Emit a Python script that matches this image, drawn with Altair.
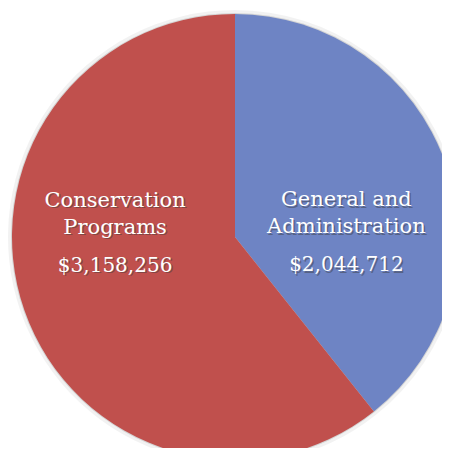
import altair as alt
import pandas as pd

categories = ["General and Administration", "Conservation Programs"]
line1 = ["General and", "Conservation"]
line2 = ["Administration", "Programs"]
amounts = [2044712, 3158256]
amount_labels = ["$2,044,712", "$3,158,256"]
colors = ["#6E84C4", "#C0504D"]

df = pd.DataFrame({
    "category": categories,
    "line1": line1,
    "line2": line2,
    "amount": amounts,
    "amount_label": amount_labels,
    "order": [0, 1],
})

CX, CY, R = 227, 229, 223
chart0 = alt.Chart(df)
base = chart0.encode(
    theta=alt.Theta("amount:Q", stack=True),
    order=alt.Order("order:Q"),
    x=alt.value(CX),
    y=alt.value(CY),
)

color = alt.Color("category:N", scale=alt.Scale(domain=categories, range=colors), legend=None)

glow = base.mark_arc(radius=R + 4, color="#000000", opacity=0.05, dx=1, dy=1)
shadow = base.mark_arc(radius=R + 1, color="#000000", opacity=0.12, dx=2, dy=3)
pie = base.mark_arc(radius=R, stroke=None).encode(color=color)

FONT = "DejaVu Serif"

# per-slice label radius and vertical shift
settings = {categories[0]: (118, 2), categories[1]: (127, -78)}

lab_base = chart0.transform_window(
    cum="sum(amount)", sort=[alt.SortField("order")], frame=[None, 0]
).transform_calculate(
    mid="datum.cum - datum.amount / 2"
).encode(
    theta=alt.Theta("mid:Q", stack=False),
    x=alt.value(CX),
    y=alt.value(CY),
)

def txt(cat, field, dy, fs, shadow=False):
    r, shift = settings[cat]
    kw = dict(radius=r, font=FONT, fontSize=fs, align="center", baseline="middle")
    b = lab_base.transform_filter(alt.datum.category == cat)
    if shadow:
        return b.mark_text(dx=1.5, dy=shift + dy + 1.5, color="#3a3a3a", opacity=0.45, **kw).encode(text=f"{field}:N")
    return b.mark_text(dy=shift + dy, color="#FFFFFF", **kw).encode(text=f"{field}:N")

rows = [("line1", 0, 21), ("line2", 27, 21), ("amount_label", 65, 20)]
layers = [glow, shadow, pie]
for sh in (True, False):
    for cat in categories:
        for f, d, fs in rows:
            layers.append(txt(cat, f, d, fs, sh))

chart = alt.layer(*layers).properties(
    width=434, height=440, padding=0, autosize=alt.AutoSizeParams(type="none")
).configure_view(stroke=None)

chart.save("out.html", embed_options={"renderer": "svg", "actions": False})
